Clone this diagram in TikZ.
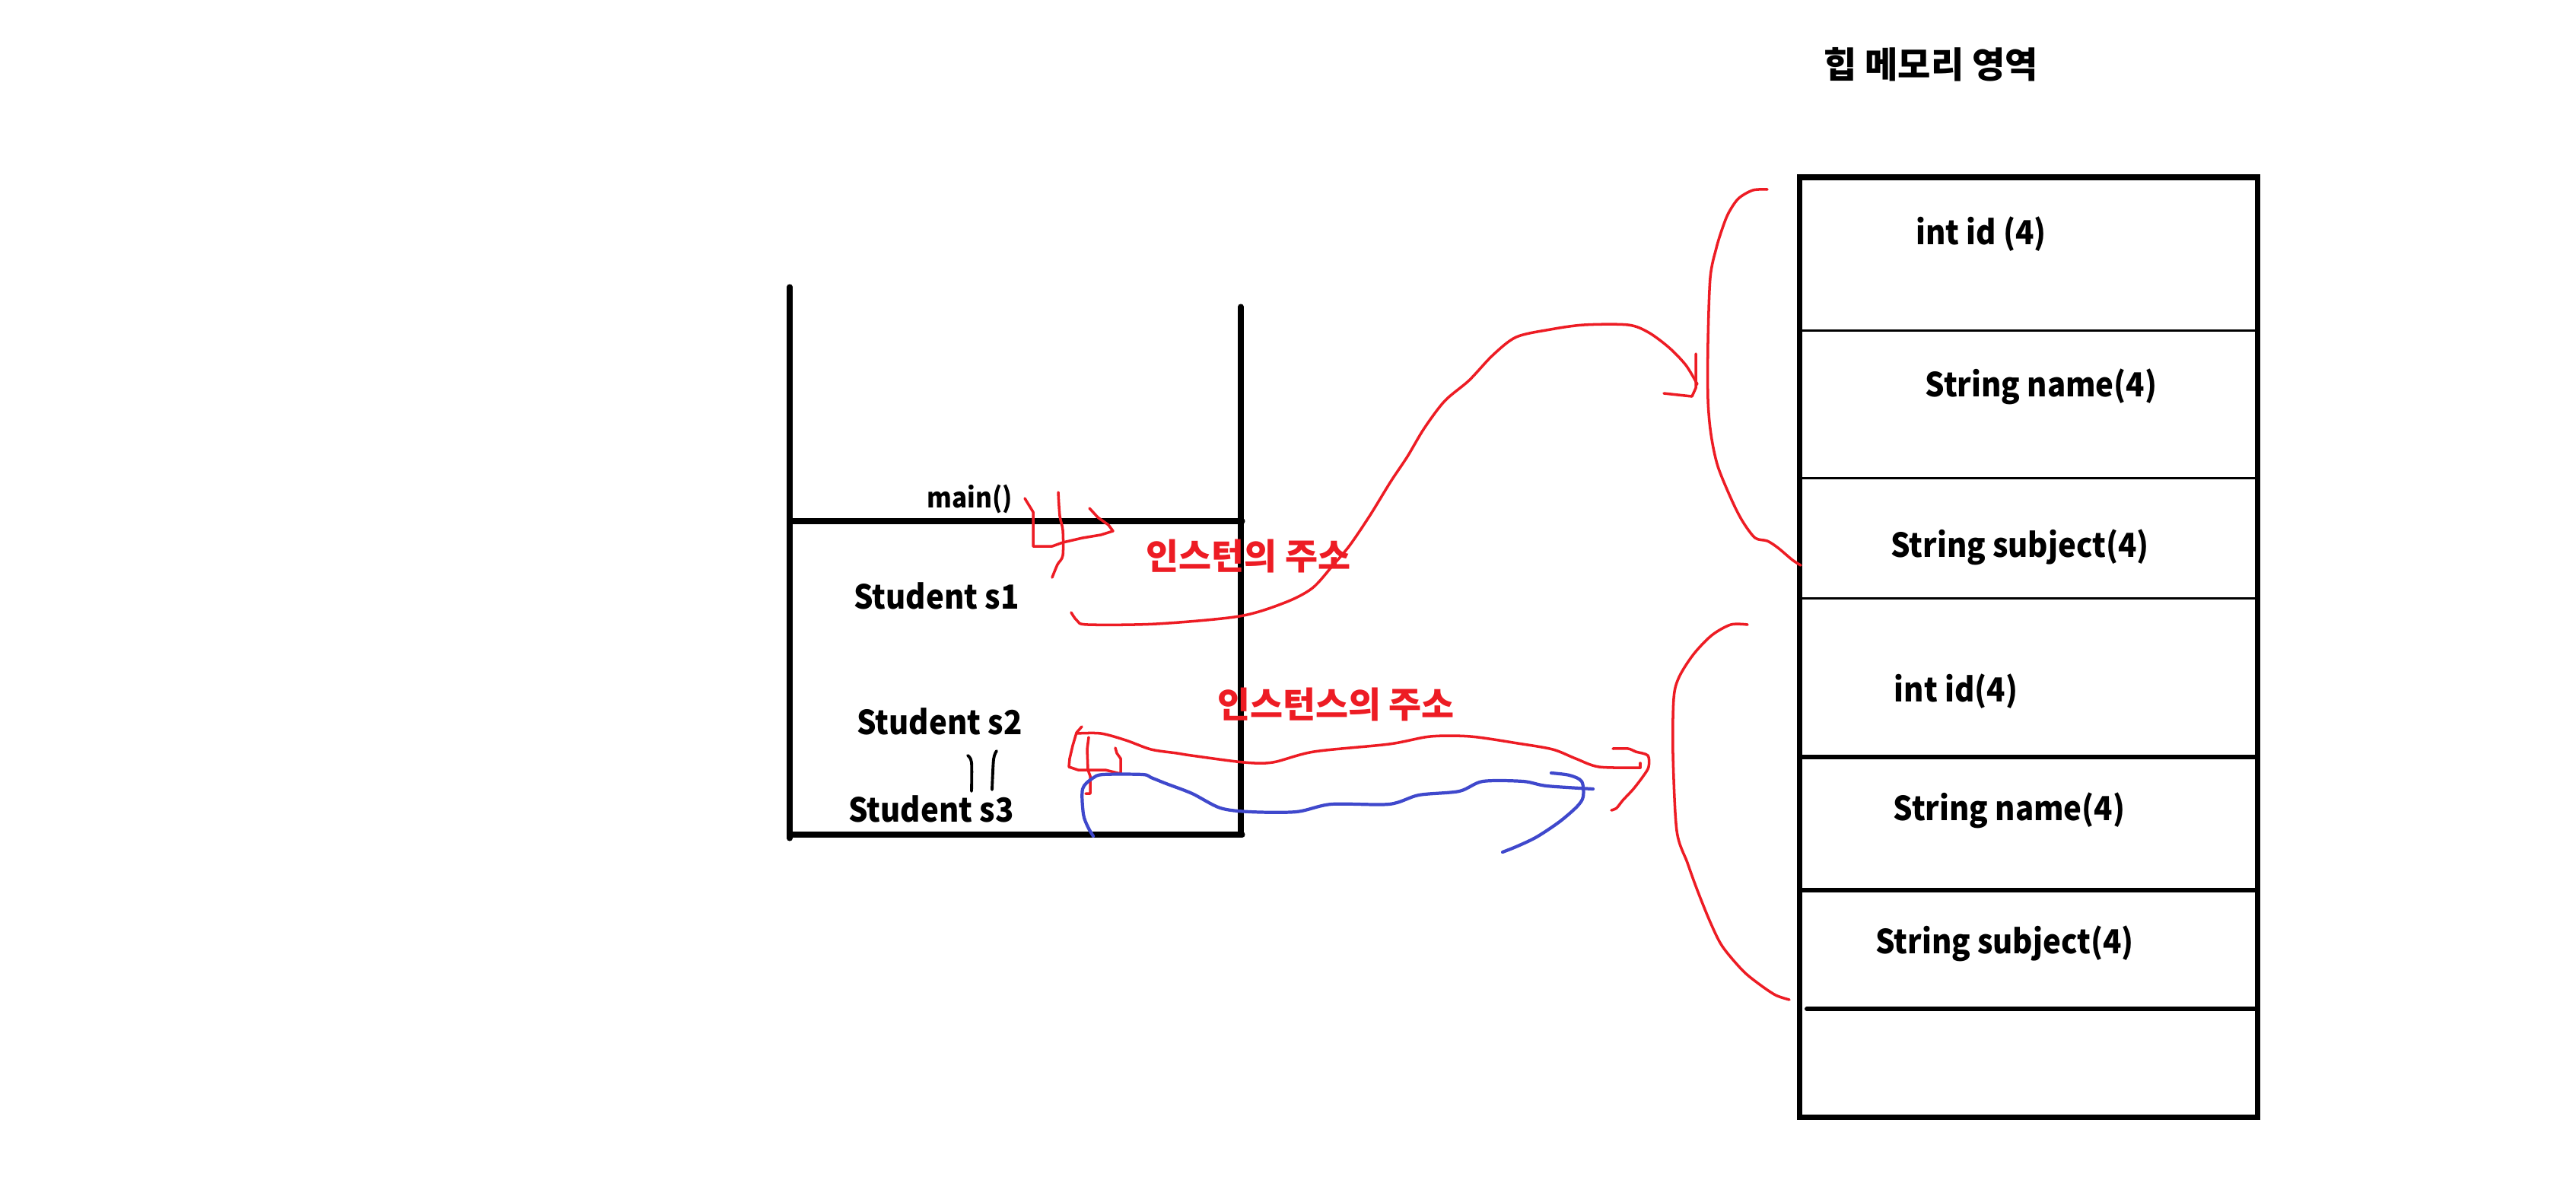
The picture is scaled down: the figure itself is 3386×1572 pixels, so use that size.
\documentclass[tikz,border=0pt]{standalone}
\usepackage{fontspec}
\setmainfont{Noto Sans CJK KR}
\newfontfamily\kr{Noto Sans CJK KR}
\newfontfamily\krn{Noto Sans CJK KR}[FakeStretch=0.92]
\definecolor{pred}{RGB}{237,28,36}
\definecolor{pblue}{RGB}{63,72,204}
\begin{document}
\begin{tikzpicture}[x=0.01cm,y=-0.01cm,
  heavy/.style={line width=2pt, line cap=round},
  light/.style={line width=0.85pt},
  redpen/.style={pred, line width=1pt, line cap=round, line join=round},
  bluepen/.style={pblue, line width=1.2pt, line cap=round, line join=round},
  blackpen/.style={black, line width=1.1pt, line cap=round, line join=round},
  lbl/.style={font=\krn\fontsize{12.4}{14}\selectfont\bfseries, inner sep=0pt, anchor=base},
  small/.style={font=\krn\fontsize{10.3}{12}\selectfont\bfseries, inner sep=0pt, anchor=base},
  krlbl/.style={font=\kr\fontsize{13.4}{15}\selectfont\bfseries, inner sep=0pt},
  krred/.style={font=\kr\fontsize{13.3}{15}\selectfont\bfseries, text=pred, inner sep=0pt},
  sm/.style={smooth, tension=0.5}
]
\useasboundingbox (0,0) rectangle (3386,1572);
\fill[white] (0,0) rectangle (3386,1572);

% ---------- stack ----------
\coordinate (stl) at (1038,377);
\coordinate (str) at (1631,403);
\coordinate (sml) at (1038,685);
\coordinate (smr) at (1633,685);
\coordinate (sbl) at (1038,1097);
\coordinate (sbr) at (1633,1097);
\draw[heavy] (stl) -- (1038,1102);
\draw[heavy] (str) -- (1631,1097);
\draw[heavy] (sml) -- (smr);
\draw[heavy] (sbl) -- (sbr);

\node[small] (main) at (1275,667) {main()};
\node[lbl] (s1) at (1231,800) {Student s1};
\node[lbl] (s2) at (1235,965) {Student s2};
\node[lbl] (s3) at (1224,1080) {Student s3};

% black marks between s2 and s3
\draw[blackpen] plot[sm] coordinates {(1272,993) (1277,1002) (1277,1040)};
\draw[blackpen] plot[sm] coordinates {(1310,987) (1306,998) (1304,1038)};

% ---------- heap ----------
\node[krlbl] (title) at (2538,85) {힙 메모리 영역};
\coordinate (htl) at (2365,233);
\coordinate (hbr) at (2967,1468);
\draw[heavy, line cap=butt] (htl) rectangle (hbr);
\draw[light] (2365,434) -- (2967,434);
\draw[light] (2365,628) -- (2967,628);
\draw[light] (2365,786) -- (2967,786);
\draw[line width=1.7pt] (2365,995) -- (2967,995);
\draw[line width=1.7pt] (2365,1170) -- (2967,1170);
\draw[line width=1.7pt, line cap=round] (2375,1326) -- (2967,1326);

\node[lbl] (a1) at (2604,321) {int id (4)};
\node[lbl] (a2) at (2683,521) {String name(4)};
\node[lbl] (a3) at (2655,732) {String subject(4)};
\node[lbl] (b1) at (2571,922) {int id(4)};
\node[lbl] (b2) at (2641,1078) {String name(4)};
\node[lbl] (b3) at (2635,1253) {String subject(4)};

% ---------- red annotations ----------
\node[krred] (addr1) at (1641,731) {인스턴의 주소};
\node[krred] (addr2) at (1756,926) {인스턴스의 주소};

% marks near main()
\draw[redpen] (1347,655) -- (1358,673) -- (1358,718) -- (1383,718) -- (1397,713) -- (1423,707) -- (1447,703) -- (1463,698) -- (1457,690) -- (1443,680) -- (1432,668);
\draw[redpen] plot[sm] coordinates {(1391,647) (1393,678) (1397,697) (1397,730) (1390,742) (1383,759)};

% pointer s1 -> first object
\coordinate (p1start) at (1408,805);
\coordinate (p1end) at (2231,505);
\draw[redpen] plot[sm] coordinates {(p1start) (1416,816) (1430,821) (1520,820) (1629,810) (1689,792) (1725,773) (1752,743) (1774,717) (1801,677) (1828,633) (1850,600) (1872,563) (1899,527) (1931,500) (1962,467) (1993,443) (2038,433) (2082,427) (2140,427) (2167,437) (2194,457) (2216,480) (p1end)};
\draw[redpen] (2229,465) -- (2229,510) -- (2224,521) -- (2187,517);

% brace around first object
\draw[redpen] plot[sm] coordinates {(2323,249) (2304,250) (2285,261) (2272,280) (2264,300) (2256,326) (2248,365) (2245,450) (2245,525) (2249,571) (2258,613) (2277,659) (2291,686) (2307,707) (2323,711) (2337,720) (2356,736) (2367,743)};

% marks near s2
\draw[redpen] (1422,955) -- (1415,963) -- (1410,980) -- (1406,997) -- (1405,1008) -- (1417,1012) -- (1453,1012) -- (1473,1017) -- (1473,997) -- (1468,990) -- (1466,983);
\draw[redpen] (1431,969) -- (1429,985) -- (1430,1012) -- (1433,1020) -- (1433,1043) -- (1427,1043);

% pointer s2 -> second object
\coordinate (p2start) at (1415,964);
\coordinate (p2end) at (2156,1009);
\draw[redpen] plot[sm] coordinates {(p2start) (1447,964) (1480,973) (1513,985) (1547,990) (1566,993) (1635,1002) (1673,1002) (1727,988) (1826,978) (1880,968) (1933,968) (1995,977) (2041,985) (2071,997) (2102,1008) (p2end)};
\draw[redpen] (p2end) -- (2156,1003);
\draw[redpen] plot[sm] coordinates {(2120,984) (2140,984) (2150,988) (2166,993) (2167,1008) (2160,1020) (2147,1037) (2133,1052) (2125,1062) (2118,1065)};

% brace around second object
\draw[redpen] plot[sm] coordinates {(2297,821) (2275,821) (2250,835) (2226,860) (2207,890) (2200,918) (2199,991) (2204,1092) (2218,1134) (2231,1170) (2248,1212) (2264,1244) (2291,1276) (2313,1294) (2334,1308) (2352,1314)};

% ---------- blue pointer s3 ----------
\coordinate (p3start) at (1437,1099);
\coordinate (p3end) at (2094,1037);
\draw[bluepen] plot[sm] coordinates {(p3start) (1430,1087) (1424,1070) (1423,1037) (1436,1023) (1450,1018) (1502,1018) (1513,1022) (1533,1030) (1567,1043) (1604,1062) (1643,1067) (1704,1067) (1750,1057) (1826,1057) (1865,1045) (1918,1040) (1949,1027) (2002,1027) (2033,1033) (p3end)};
\draw[bluepen] plot[sm] coordinates {(2039,1016) (2063,1019) (2079,1027) (2081,1047) (2073,1060) (2050,1080) (2020,1100) (1995,1112) (1975,1120)};

\end{tikzpicture}
\end{document}
